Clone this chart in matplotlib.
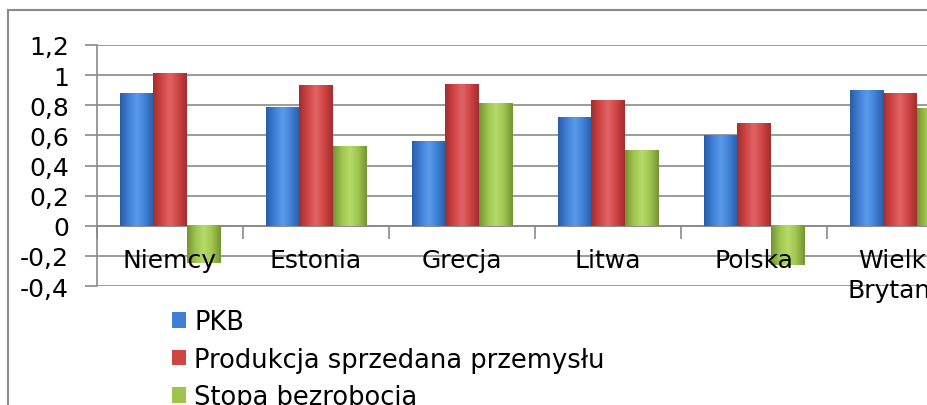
import matplotlib
matplotlib.use("Agg")
import matplotlib.pyplot as plt
import numpy as np
from matplotlib.colors import LinearSegmentedColormap
from matplotlib.patches import Rectangle

categories = ["Niemcy", "Estonia", "Grecja", "Litwa", "Polska", "Wielka\nBrytania"]
series_names = ["PKB", "Produkcja sprzedana przemysłu", "Stopa bezrobocia"]
pkb = [0.88, 0.79, 0.56, 0.72, 0.60, 0.90]
produkcja = [1.01, 0.93, 0.94, 0.83, 0.68, 0.88]
stopa = [-0.25, 0.53, 0.81, 0.50, -0.26, 0.78]
yticks = [-0.4, -0.2, 0, 0.2, 0.4, 0.6, 0.8, 1, 1.2]
ytick_labels = ["-0,4", "-0,2", "0", "0,2", "0,4", "0,6", "0,8", "1", "1,2"]

colors = ["#3f7fd6", "#d04444", "#9fc44e"]
edge_colors = ["#2a5ca6", "#a22e2e", "#759433"]
light_colors = ["#5b9bea", "#e06464", "#b7da6a"]

plt.rcParams['font.family'] = ['DejaVu Sans']

fig = plt.figure(figsize=(9.28, 4.06), dpi=100)
W, H = 928, 406
ax = fig.add_axes([97 / W, (406 - 287) / H, 876 / W, 241 / H])

for s in ['top', 'right']:
    ax.spines[s].set_visible(False)
ax.spines['bottom'].set_position(('data', 0))
ax.spines['bottom'].set_color("#8a8a8a")
ax.spines['bottom'].set_linewidth(1.2)
ax.spines['left'].set_color("#8a8a8a")
ax.spines['left'].set_linewidth(1.2)

x = np.arange(len(categories)) + 0.5
bw = 0.23
values = [pkb, produkcja, stopa]
containers = []
for i, vals in enumerate(values):
    c = ax.bar(x + (i - 1) * bw, vals, width=bw, color=colors[i],
               label=series_names[i], zorder=3)
    containers.append(c)
    cmap = LinearSegmentedColormap.from_list(
        "g%d" % i, [edge_colors[i], colors[i], light_colors[i], colors[i], edge_colors[i]])
    grad = np.linspace(0, 1, 64).reshape(1, -1)
    for p in c.patches:
        x0 = p.get_x(); w = p.get_width()
        y0 = p.get_y(); h = p.get_height()
        ax.imshow(grad, cmap=cmap, aspect='auto',
                  extent=[x0, x0 + w, min(y0, y0 + h), max(y0, y0 + h)],
                  zorder=4, interpolation='bicubic')

ax.set_xlim(0, len(categories))
ax.set_ylim(-0.4, 1.2)
ax.set_yticks(yticks)
ax.set_yticklabels(ytick_labels, fontsize=18)
ax.yaxis.grid(True, color="#8a8a8a", linewidth=1.2, zorder=0)
ax.set_axisbelow(True)

ax.set_xticks(x)
ax.set_xticklabels(categories, fontsize=18, linespacing=1.3)
ax.set_xticks(np.arange(0, len(categories) + 1), minor=True)
ax.tick_params(axis='x', which='major', length=0, pad=16)
ax.tick_params(axis='x', which='minor', length=9, color="#8a8a8a", width=1.2, direction='out')
ax.tick_params(axis='y', length=9, color="#8a8a8a", width=1.2, pad=11)
ax.xaxis.set_zorder(6)
ax.patch.set_alpha(0)

leg = ax.legend(handles=containers, loc='upper left',
                bbox_to_anchor=(172 / W, (406 - 310) / H), bbox_transform=fig.transFigure,
                frameon=False, fontsize=18.5, handlelength=0.55, handleheight=0.55,
                handletextpad=0.32, labelspacing=0.45, borderpad=0, borderaxespad=0)

frame = Rectangle((8 / W, -0.1), 1.2, (406 - 11) / H + 0.1, transform=fig.transFigure,
                  fill=False, edgecolor="#8a8a8a", linewidth=1.5)
fig.patches.append(frame)

fig.savefig("out.png", dpi=100)
